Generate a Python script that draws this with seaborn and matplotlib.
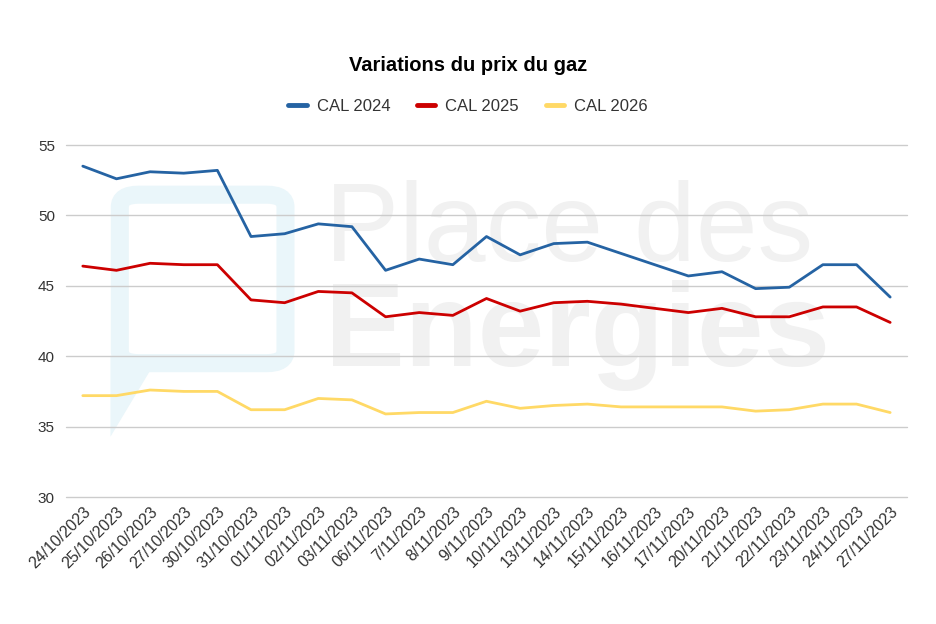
import numpy as np
import pandas as pd
import seaborn as sns
import matplotlib.pyplot as plt
from matplotlib.patches import FancyBboxPatch, Polygon

# Dates (x categories)
dates = ["24/10/2023", "25/10/2023", "26/10/2023", "27/10/2023", "30/10/2023",
         "31/10/2023", "01/11/2023", "02/11/2023", "03/11/2023", "06/11/2023",
         "7/11/2023", "8/11/2023", "9/11/2023", "10/11/2023", "13/11/2023",
         "14/11/2023", "15/11/2023", "16/11/2023", "17/11/2023", "20/11/2023",
         "21/11/2023", "22/11/2023", "23/11/2023", "24/11/2023", "27/11/2023"]

cal_2024 = [53.5, 52.6, 53.1, 53.0, 53.2, 48.5, 48.7, 49.4, 49.2, 46.1,
            46.9, 46.5, 48.5, 47.2, 48.0, 48.1, 47.3, 46.5, 45.7, 46.0,
            44.8, 44.9, 46.5, 46.5, 44.2]
cal_2025 = [46.4, 46.1, 46.6, 46.5, 46.5, 44.0, 43.8, 44.6, 44.5, 42.8,
            43.1, 42.9, 44.1, 43.2, 43.8, 43.9, 43.7, 43.4, 43.1, 43.4,
            42.8, 42.8, 43.5, 43.5, 42.4]
cal_2026 = [37.2, 37.2, 37.6, 37.5, 37.5, 36.2, 36.2, 37.0, 36.9, 35.9,
            36.0, 36.0, 36.8, 36.3, 36.5, 36.6, 36.4, 36.4, 36.4, 36.4,
            36.1, 36.2, 36.6, 36.6, 36.0]

series_names = ["CAL 2024", "CAL 2025", "CAL 2026"]
colors = ["#2563a3", "#cc0000", "#ffd966"]

df = pd.DataFrame({"date": dates * 3,
                   "prix": cal_2024 + cal_2025 + cal_2026,
                   "serie": np.repeat(series_names, len(dates))})
df["idx"] = list(range(len(dates))) * 3

sns.set_theme(style="white")
plt.rcParams["font.family"] = ["Liberation Sans", "DejaVu Sans"]

fig = plt.figure(figsize=(9.36, 6.24), dpi=100)
ax = fig.add_axes([0.0705, 0.2035, 0.8985, 0.5641])
ax.set_zorder(2)
ax.patch.set_alpha(0)

# watermark logo (background)
fig.patches.append(FancyBboxPatch((0.128, 0.418), 0.177, 0.27,
                                  boxstyle="round,pad=0,rounding_size=0.02",
                                  transform=fig.transFigure, facecolor="none",
                                  edgecolor="#eaf6fa", linewidth=13, zorder=0))
fig.patches.append(Polygon([(0.118, 0.43), (0.118, 0.30), (0.17, 0.43)],
                           closed=True, transform=fig.transFigure,
                           facecolor="#eaf6fa", edgecolor="none", zorder=0))
fig.text(0.347, 0.628, "Place des", fontsize=80, color="#f1f1f1",
         fontweight="light", va="center", ha="left", zorder=0)
fig.text(0.347, 0.462, "Energies", fontsize=86, color="#f1f1f1",
         fontweight="bold", va="center", ha="left", zorder=0)

sns.lineplot(data=df, x="idx", y="prix", hue="serie", palette=colors,
             linewidth=2, ax=ax, legend=False)

ax.set_xlim(-0.5, len(dates) - 0.5)
ax.set_ylim(30, 55)
ax.set_yticks([30, 35, 40, 45, 50, 55])
ax.set_xticks(range(len(dates)))
ax.set_xticklabels(dates, rotation=45, ha="right", rotation_mode="anchor")
ax.tick_params(axis="y", labelsize=11, colors="#333333", length=0, pad=8)
ax.tick_params(axis="x", labelsize=11.5, colors="#333333", length=0, pad=5)
ax.yaxis.grid(True, color="#cccccc", linewidth=1)
for gl in ax.get_ygridlines():
    gl.set_clip_on(False)
ax.xaxis.grid(False)
for s in ax.spines.values():
    s.set_visible(False)
ax.set_xlabel("")
ax.set_ylabel("")

fig.text(0.5, 0.895, "Variations du prix du gaz", ha="center", va="center",
         fontsize=14.5, fontweight="bold", color="#000000")

# legend
handles = [plt.Line2D([0], [0], color=c, linewidth=3.5) for c in colors]
fig.legend(handles, series_names, loc="center", bbox_to_anchor=(0.5, 0.83),
           ncol=3, frameon=False, fontsize=12, handlelength=1.1,
           handletextpad=0.6, columnspacing=1.6, labelcolor="#333333")

fig.savefig("out.png", dpi=100, facecolor="white")
